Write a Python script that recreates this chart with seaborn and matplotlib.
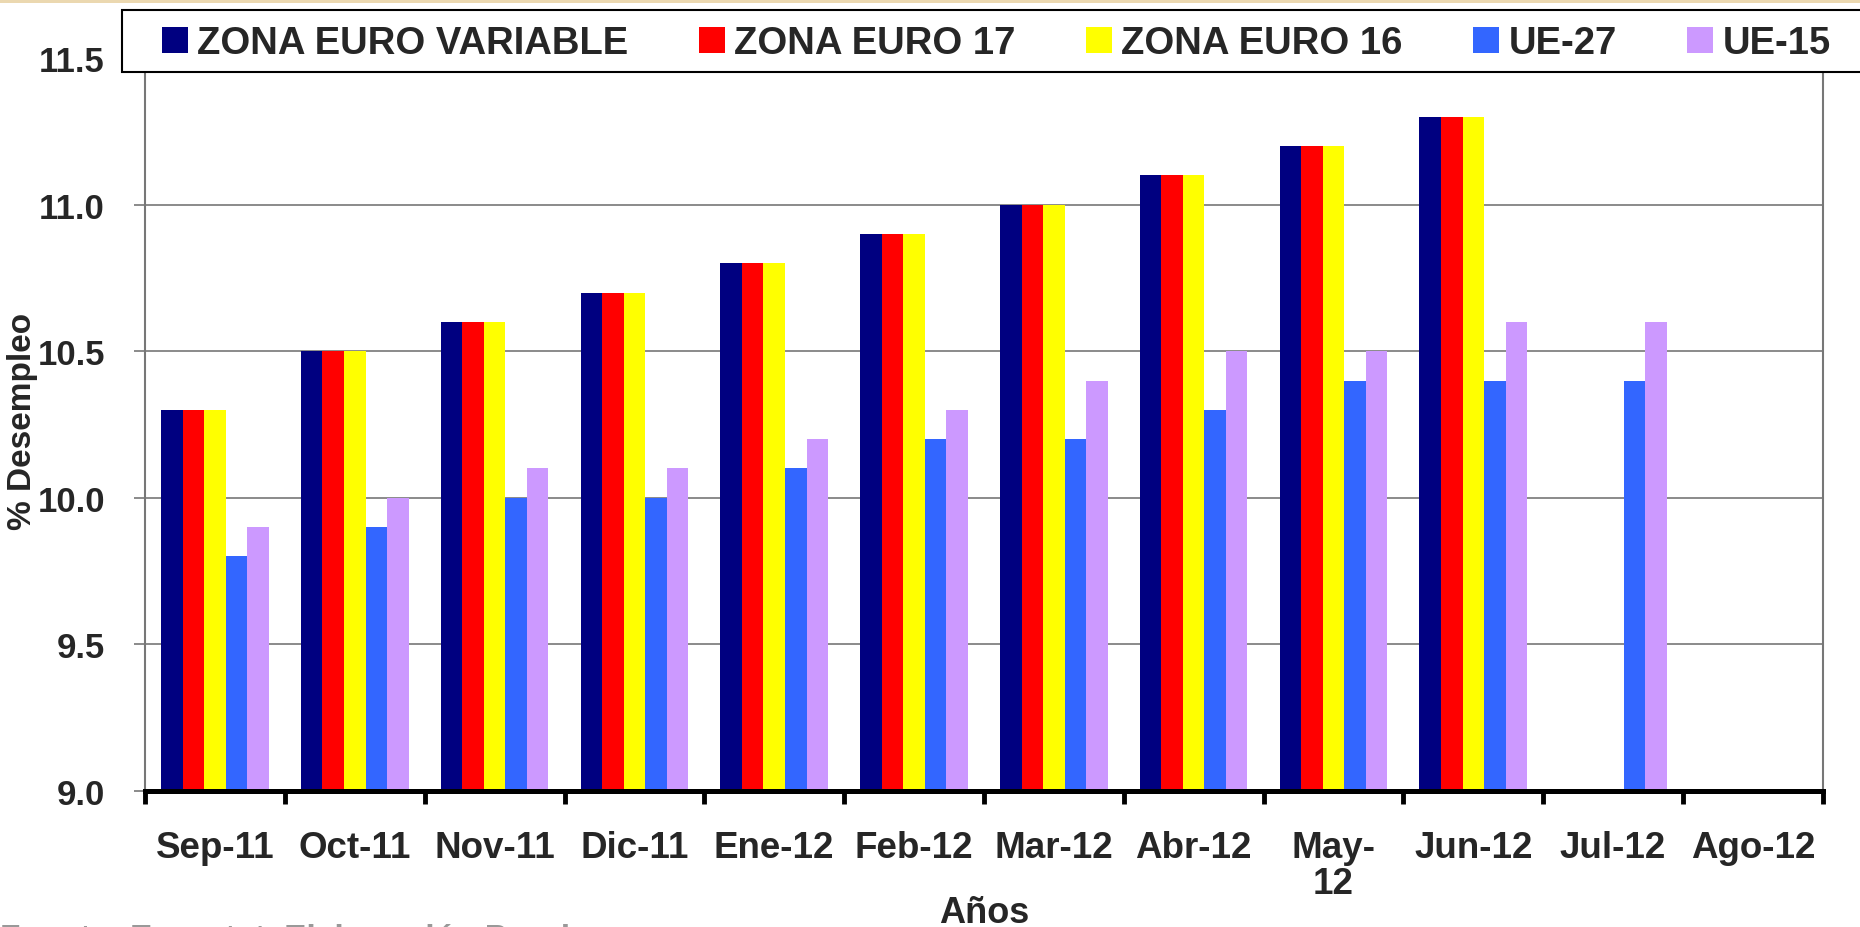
import matplotlib
matplotlib.use("Agg")
import matplotlib.pyplot as plt
import seaborn as sns
import pandas as pd
import numpy as np
from matplotlib.patches import Rectangle, Patch

# Datos
meses = ['Sep-11', 'Oct-11', 'Nov-11', 'Dic-11', 'Ene-12', 'Feb-12',
         'Mar-12', 'Abr-12', 'May-\n12', 'Jun-12', 'Jul-12', 'Ago-12']
series = ['ZONA EURO VARIABLE', 'ZONA EURO 17', 'ZONA EURO 16', 'UE-27', 'UE-15']
zona_euro_variable = [10.3, 10.5, 10.6, 10.7, 10.8, 10.9, 11.0, 11.1, 11.2, 11.3, np.nan, np.nan]
zona_euro_17 = [10.3, 10.5, 10.6, 10.7, 10.8, 10.9, 11.0, 11.1, 11.2, 11.3, np.nan, np.nan]
zona_euro_16 = [10.3, 10.5, 10.6, 10.7, 10.8, 10.9, 11.0, 11.1, 11.2, 11.3, np.nan, np.nan]
ue_27 = [9.8, 9.9, 10.0, 10.0, 10.1, 10.2, 10.2, 10.3, 10.4, 10.4, 10.4, np.nan]
ue_15 = [9.9, 10.0, 10.1, 10.1, 10.2, 10.3, 10.4, 10.5, 10.5, 10.6, 10.6, np.nan]

colores = ['#000080', '#FF0000', '#FFFF00', '#3366FF', '#CC99FF']

# Tabla larga para seaborn
valores = [zona_euro_variable, zona_euro_17, zona_euro_16, ue_27, ue_15]
filas = []
for nombre, vals in zip(series, valores):
    for mes, v in zip(meses, vals):
        filas.append({'Mes': mes, 'Serie': nombre, 'Valor': v})
df = pd.DataFrame(filas).dropna()

sns.set_style("white")
plt.rcParams['font.family'] = ['Liberation Sans', 'DejaVu Sans']
plt.rcParams['font.weight'] = 'bold'

fig = plt.figure(figsize=(18.6, 9.28), dpi=100)
ax = fig.add_axes([0.078, 0.1466, 0.902, 0.7898])

sns.barplot(data=df, x='Mes', y='Valor', hue='Serie', order=meses,
            hue_order=series, palette=colores, width=0.77, saturation=1,
            errorbar=None, linewidth=0, legend=False, ax=ax)

ax.set_ylim(9.0, 11.5)
ax.set_xlim(-0.5, len(meses) - 0.5)
yt = [9.0, 9.5, 10.0, 10.5, 11.0, 11.5]
ax.set_yticks(yt)
ax.set_yticklabels([f'{t:.1f}' for t in yt], fontsize=25, fontweight='bold')
ax.yaxis.grid(True, color='#777777', linewidth=1.2)
ax.set_axisbelow(True)
ax.tick_params(axis='y', left=True, length=8, width=1.2, color='#777777', pad=21)

# ticks en los bordes de cada categoria
ax.set_xticks(np.arange(len(meses)))
ax.set_xticklabels(meses, fontsize=26.5, fontweight='bold', linespacing=1.05)
ax.tick_params(axis='x', which='major', bottom=False, length=0, pad=28)
ax.set_xticks(np.arange(-0.5, len(meses)), minor=True)
ax.tick_params(axis='x', which='minor', bottom=True, length=9, width=3.5, color='black')

for s in ['left', 'right']:
    ax.spines[s].set_color('#777777')
    ax.spines[s].set_linewidth(1.5)
ax.spines['top'].set_visible(False)
ax.spines['bottom'].set_color('black')
ax.spines['bottom'].set_linewidth(3.6)

ax.set_xlabel('Años', fontsize=26, fontweight='bold')
ax.xaxis.set_label_coords(0.5, -0.142)
ax.set_ylabel('% Desempleo', fontsize=24, fontweight='bold')
ax.yaxis.set_label_coords(-0.064, 0.506)

# Recuadro de la leyenda (se sale por la derecha)
fig.patches.append(Rectangle((0.0656, 0.9213), 1.0, 0.0668, transform=fig.transFigure,
                             facecolor='white', edgecolor='black', linewidth=1.5,
                             zorder=3))

handles = [Patch(facecolor=c, edgecolor='none', label=s) for c, s in zip(colores, series)]
leg = fig.legend(handles=handles, loc='center left', bbox_to_anchor=(0.0871, 0.9526),
                 ncol=5, frameon=False, columnspacing=1.85,
                 handlelength=0.67, handleheight=0.67, handletextpad=0.25,
                 borderpad=0, borderaxespad=0,
                 prop={'weight': 'bold', 'size': 27.5})
leg.set_zorder(5)

# Franja superior
fig.patches.append(Rectangle((0, 0.996), 1, 0.004, transform=fig.transFigure,
                             facecolor='#EBD8B0', edgecolor='none'))

# Fuente (cortada en el borde inferior como en el original)
fig.text(0.0, 0.004, 'Fuente: Eurostat. Elaboración Propia', fontsize=24,
         color='#999999', fontweight='bold', va='top')

fig.savefig('out.png', dpi=100)
